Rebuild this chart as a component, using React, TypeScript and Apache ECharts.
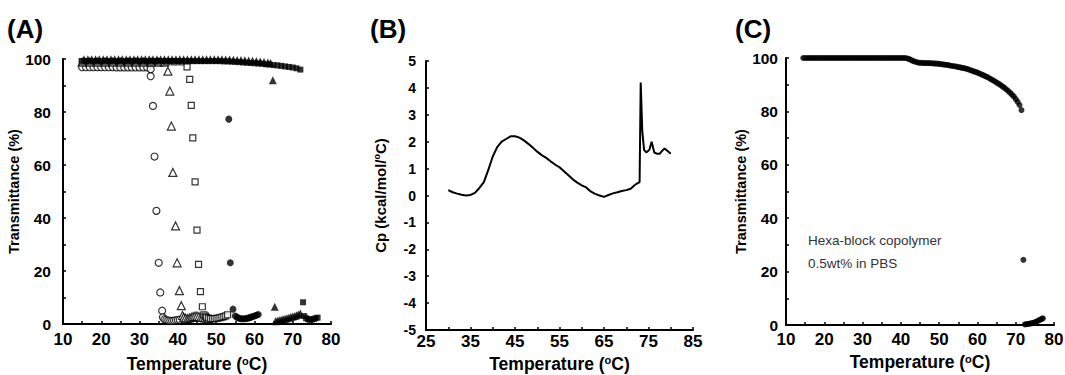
import React, { useEffect, useRef } from "react";
import * as echarts from "echarts";

const FONT = "'Liberation Sans', Arial, sans-serif";

// ---------- Panel A data: [temperature, transmittance] ----------
const openCircles: number[][] = [
  [15, 96.9], [16, 96.9], [17, 96.9], [18, 96.9], [19, 96.9], [20, 96.9], [21, 96.9], [22, 96.9],
  [23, 96.9], [24, 96.8], [25, 96.8], [26, 96.8], [27, 96.8], [28, 96.8], [29, 96.8], [30, 96.8],
  [31, 96.8], [32, 96.8],
  [32.9, 96.1], [32.9, 93.5], [33.5, 82.3], [33.9, 63.2], [34.4, 42.7], [35.0, 23.1], [35.4, 11.9],
  [35.9, 5.0], [36.1, 2.5],
  [36.5, 1.8], [37, 1.5], [37.5, 1.3], [38, 1.2], [38.5, 1.2], [39, 1.3], [39.5, 1.4], [40, 1.5], [40.5, 1.6],
];

const openTriangles: number[][] = [
  [15, 98.8], [17, 98.8], [19, 98.8], [21, 98.8], [23, 98.8], [25, 98.8], [27, 98.8], [29, 98.8],
  [31, 98.8], [33, 98.8], [35, 98.8], [36.5, 98.8],
  [37.4, 95.4], [37.9, 87.9], [38.3, 74.7], [38.7, 57.2], [39.4, 37.0], [39.8, 23.1], [40.4, 12.6],
  [40.9, 6.9], [41.2, 3.2],
  [41.5, 2.5], [42, 2.2], [42.5, 2.0], [43, 2.3], [43.5, 2.5], [44, 2.8], [44.5, 3.0], [45, 3.0],
  [45.5, 2.8], [46, 2.5], [46.5, 2.5], [47, 2.3], [47.5, 2.2], [48, 2.0],
];

const openSquares: number[][] = [
  [15, 98.9], [17, 98.9], [19, 98.9], [21, 98.9], [23, 98.9], [25, 98.9], [27, 98.9], [29, 98.9],
  [31, 98.9], [33, 98.9], [35, 98.9], [37, 98.9], [39, 98.9], [41, 98.9],
  [42.4, 97.0], [43.1, 92.3], [43.5, 82.5], [43.9, 70.2], [44.5, 53.6], [45.0, 35.4], [45.4, 22.5],
  [45.9, 12.2], [46.4, 6.5], [46.8, 3.5],
  [47.2, 3.0], [47.5, 2.5], [48, 2.2], [48.5, 2.0], [49, 2.0], [49.5, 2.0], [50, 2.1], [50.5, 2.2],
  [51, 2.4], [51.5, 2.6], [52, 2.8], [52.5, 3.1], [53, 3.5],
];

const filledCircles: number[][] = [
  [15, 100.4], [16, 100.4], [17, 100.4], [18, 100.4], [19, 100.4], [20, 100.4], [21, 100.4], [22, 100.4],
  [23, 100.4], [24, 100.4], [25, 100.4], [26, 100.4], [27, 100.4], [28, 100.4], [29, 100.4], [30, 100.4],
  [31, 100.4], [32, 100.4], [33, 100.4], [34, 100.4], [35, 100.4], [36, 100.4], [37, 100.4], [38, 100.4],
  [39, 100.4], [40, 100.4], [41, 100.4], [42, 100.4], [43, 100.4], [44, 100.4], [45, 100.4], [46, 100.4],
  [47, 100.4], [48, 100.4], [49, 100.4], [50, 100.4], [51, 100.3], [52, 100.2], [53, 100.1],
  [53.3, 77.3], [53.7, 23.1], [54.4, 5.6],
  [55, 3.0], [55.5, 2.5], [56, 2.2], [56.5, 2.0], [57, 2.0], [57.5, 2.0], [58, 2.1], [58.5, 2.3],
  [59, 2.5], [59.5, 2.8], [60, 3.0], [60.5, 3.3], [61, 3.6],
];

const filledTriangles: number[][] = [
  [15.5, 99.9], [16.5, 99.9], [17.5, 99.9], [18.5, 99.9], [19.5, 99.9], [20.5, 99.9], [21.5, 99.9], [22.5, 99.9],
  [23.5, 99.9], [24.5, 99.9], [25.5, 99.9], [26.5, 99.9], [27.5, 99.9], [28.5, 99.9], [29.5, 99.9], [30.5, 99.9],
  [31.5, 99.9], [32.5, 99.9], [33.5, 99.9], [34.5, 99.9], [35.5, 99.9], [36.5, 99.9], [37.5, 99.9], [38.5, 99.9],
  [39.5, 99.9], [40.5, 99.9], [41.5, 99.9], [42.5, 99.9], [43.5, 99.9], [44.5, 99.9], [45.5, 99.9], [46.5, 99.9],
  [47.5, 99.9], [48.5, 99.9], [49.5, 99.9], [50.5, 99.9], [51.5, 99.9], [52.5, 99.8], [53.5, 99.8], [54.5, 99.7],
  [55.5, 99.6], [56.5, 99.6], [57.5, 99.5], [58.5, 99.4], [59.5, 99.3], [60.5, 99.2], [61.5, 99.1], [62.5, 98.9],
  [63.5, 98.7], [64.2, 98.5],
  [64.8, 92.0], [65.3, 6.5],
  [65.5, 1.0], [66, 1.2], [66.5, 1.4], [67, 1.6], [67.5, 1.8], [68, 2.0], [68.5, 2.2], [69, 2.4],
  [69.5, 2.6], [70, 2.8], [70.5, 3.0], [71, 3.3], [71.5, 3.6], [72, 4.0],
];

const filledSquares: number[][] = [
  [15, 99.2], [16, 99.2], [17, 99.2], [18, 99.2], [19, 99.2], [20, 99.2], [21, 99.2], [22, 99.2],
  [23, 99.2], [24, 99.2], [25, 99.2], [26, 99.2], [27, 99.2], [28, 99.2], [29, 99.2], [30, 99.2],
  [31, 99.2], [32, 99.2], [33, 99.2], [34, 99.2], [35, 99.2], [36, 99.2], [37, 99.2], [38, 99.2],
  [39, 99.2], [40, 99.2], [41, 99.2], [42, 99.2], [43, 99.2], [44, 99.2], [45, 99.2], [46, 99.2],
  [47, 99.2], [48, 99.2], [49, 99.2], [50, 99.2], [51, 99.2], [52, 99.1], [53, 99.1], [54, 99.0],
  [55, 98.9], [56, 98.8], [57, 98.7], [58, 98.6], [59, 98.5], [60, 98.4], [61, 98.3], [62, 98.2],
  [63, 98.0], [64, 97.9], [65, 97.7], [66, 97.6], [67, 97.4], [68, 97.2], [69, 97.0], [70, 96.8],
  [71, 96.5], [72, 96.0],
  [72.7, 8.2],
  [73, 3.0], [73.5, 2.2], [74, 1.8], [74.5, 1.6], [75, 1.7], [75.5, 1.9], [76, 2.2], [76.5, 2.4],
];

// ---------- Panel B data: DSC curve ----------
const dscTemp: number[] = [
  30, 31, 32, 33, 34, 35, 36, 37, 38, 39, 40, 41, 42, 43, 44, 45, 46, 47, 48, 49, 50,
  51, 52, 53, 54, 55, 56, 57, 58, 59, 60, 61, 62, 63, 64, 65, 66, 67, 68, 69, 70, 71, 72,
  72.5, 73.0, 73.25, 73.6, 74.0, 74.5, 75.2, 75.7, 76.3, 77.0, 77.5, 78.0, 78.6, 79.3, 80.0,
];
const dscCp: number[] = [
  0.2, 0.12, 0.07, 0.03, 0.0, 0.02, 0.1, 0.28, 0.5, 0.95, 1.45, 1.8, 2.0, 2.1, 2.2, 2.2, 2.15, 2.05, 1.92, 1.78, 1.63,
  1.5, 1.4, 1.27, 1.15, 1.05, 0.9, 0.75, 0.6, 0.48, 0.38, 0.3, 0.15, 0.06, 0.0, -0.05, 0.02, 0.08, 0.12, 0.17, 0.2, 0.25, 0.4,
  0.45, 0.5, 4.2, 2.4, 1.7, 1.6, 1.7, 2.0, 1.6, 1.55, 1.55, 1.65, 1.75, 1.65, 1.55,
];

// ---------- Panel C data ----------
const hexaBlock: number[][] = [
  [14.5, 100], [15, 100], [15.5, 100], [16, 100], [16.5, 100], [17, 100], [17.5, 100], [18, 100],
  [18.5, 100], [19, 100], [19.5, 100], [20, 100], [20.5, 100], [21, 100], [21.5, 100], [22, 100],
  [22.5, 100], [23, 100], [23.5, 100], [24, 100], [24.5, 100], [25, 100], [25.5, 100], [26, 100],
  [26.5, 100], [27, 100], [27.5, 100], [28, 100], [28.5, 100], [29, 100], [29.5, 100], [30, 100],
  [30.5, 100], [31, 100], [31.5, 100], [32, 100], [32.5, 100], [33, 100], [33.5, 100], [34, 100],
  [34.5, 100], [35, 100], [35.5, 100], [36, 100], [36.5, 100], [37, 100], [37.5, 100], [38, 100],
  [38.5, 100], [39, 100], [39.5, 100], [40, 100], [40.5, 100], [41, 100], [41.5, 99.9], [42, 99.7],
  [42.5, 99.4], [43, 99.0], [43.5, 98.7], [44, 98.5], [44.5, 98.3], [45, 98.2], [45.5, 98.2], [46, 98.1],
  [46.5, 98.1], [47, 98.1], [47.5, 98.1], [48, 98.0], [48.5, 98.0], [49, 97.9], [49.5, 97.9], [50, 97.8],
  [50.5, 97.7], [51, 97.6], [51.5, 97.5], [52, 97.4], [52.5, 97.3], [53, 97.1], [53.5, 97.0], [54, 96.9],
  [54.5, 96.8], [55, 96.6], [55.5, 96.5], [56, 96.3], [56.5, 96.2], [57, 96.0], [57.5, 95.8], [58, 95.5],
  [58.5, 95.3], [59, 95.0], [59.5, 94.8], [60, 94.5], [60.5, 94.2], [61, 93.9], [61.5, 93.6], [62, 93.2],
  [62.5, 92.9], [63, 92.5], [63.5, 92.1], [64, 91.7], [64.5, 91.3], [65, 90.8], [65.5, 90.4], [66, 89.9],
  [66.5, 89.4], [67, 88.9], [67.5, 88.3], [68, 87.7], [68.5, 87.0], [69, 86.3], [69.5, 85.6], [70, 84.6],
  [70.5, 83.6], [71, 82.4], [71.5, 80.5],
  [72.0, 24.4],
  [72.4, 0.2], [72.8, 0.3], [73.2, 0.4], [73.6, 0.5], [74.0, 0.6], [74.4, 0.7], [74.8, 0.9], [75.2, 1.1],
  [75.6, 1.4], [76.0, 1.7], [76.4, 2.0], [76.8, 2.3], [77.1, 2.5],
];

const annotation: string[] = ["Hexa-block copolymer", "0.5wt% in PBS"];

const tempName = "Temperature ({sup|o}C)";

function axisStyle() {
  return {
    axisLine: { show: true, onZero: false, lineStyle: { color: "#000", width: 2 } },
    axisTick: { show: true, inside: true, length: 3, lineStyle: { color: "#000", width: 1.5 } },
    splitLine: { show: false },
  };
}

function lbl(size: number) {
  return { color: "#000", fontSize: size, fontWeight: "bold" as const, fontFamily: FONT };
}
function nm(size: number) {
  return {
    color: "#000",
    fontSize: size,
    fontWeight: "bold" as const,
    fontFamily: FONT,
    rich: {
      sup: {
        fontSize: Math.round(size * 0.6),
        fontWeight: "bold" as const,
        fontFamily: FONT,
        color: "#000",
        verticalAlign: "top" as const,
        padding: [0, 0, 7, 0],
      },
    },
  };
}

export default function App() {
  const ref = useRef<HTMLDivElement>(null);
  useEffect(() => {
    if (!ref.current) return;
    const chart = echarts.init(ref.current, undefined, { renderer: "svg" });
    const openItem = { color: "#fff", borderColor: "#000", borderWidth: 1.2 };
    const filledItem = { color: "#000" };
    chart.setOption({
      animation: false,
      backgroundColor: "#fff",
      textStyle: { fontFamily: FONT },
      grid: [
        { left: 63, top: 59, width: 268, height: 265, outerBoundsMode: "none" },
        { left: 426, top: 61, width: 267, height: 269, outerBoundsMode: "none" },
        { left: 786, top: 58, width: 268, height: 267, outerBoundsMode: "none" },
      ],
      xAxis: [
        {
          gridIndex: 0, type: "value", min: 10, max: 80, interval: 5,
          ...axisStyle(),
          axisLabel: { ...lbl(17), margin: 7, formatter: (v: number) => (v % 10 === 0 ? String(v) : "") },
          name: tempName, nameLocation: "middle", nameGap: 31, nameTextStyle: nm(17.5),
        },
        {
          gridIndex: 1, type: "value", min: 25, max: 85, interval: 5,
          ...axisStyle(),
          axisLabel: { ...lbl(17), margin: 3, formatter: (v: number) => ((v - 25) % 10 === 0 ? String(v) : "") },
          name: tempName, nameLocation: "middle", nameGap: 24, nameTextStyle: nm(17.5),
        },
        {
          gridIndex: 2, type: "value", min: 10, max: 80, interval: 5,
          ...axisStyle(),
          axisLabel: { ...lbl(17), margin: 6, formatter: (v: number) => (v % 10 === 0 ? String(v) : "") },
          name: tempName, nameLocation: "middle", nameGap: 28, nameTextStyle: nm(17.5),
        },
      ],
      yAxis: [
        {
          gridIndex: 0, type: "value", min: 0, max: 100, interval: 10,
          ...axisStyle(),
          axisLabel: { ...lbl(15.5), margin: 12, formatter: (v: number) => (v % 20 === 0 ? String(v) : "") },
          name: "Transmittance (%)", nameLocation: "middle", nameGap: 35, nameTextStyle: nm(14.5),
        },
        {
          gridIndex: 1, type: "value", min: -5, max: 5, interval: 1,
          ...axisStyle(),
          axisLabel: { ...lbl(14), margin: 10 },
          name: "Cp (kcal/mol/{sup|o}C)", nameLocation: "middle", nameGap: 38, nameTextStyle: nm(15),
        },
        {
          gridIndex: 2, type: "value", min: 0, max: 100, interval: 10,
          ...axisStyle(),
          axisLabel: { ...lbl(15.5), margin: 8, formatter: (v: number) => (v % 20 === 0 ? String(v) : "") },
          name: "Transmittance (%)", nameLocation: "middle", nameGap: 35, nameTextStyle: nm(14.5),
        },
      ],
      series: [
        { type: "scatter", xAxisIndex: 0, yAxisIndex: 0, symbol: "circle", symbolSize: 7, itemStyle: openItem, data: openCircles },
        { type: "scatter", xAxisIndex: 0, yAxisIndex: 0, symbol: "triangle", symbolSize: 8, itemStyle: openItem, data: openTriangles },
        { type: "scatter", xAxisIndex: 0, yAxisIndex: 0, symbol: "rect", symbolSize: 6, itemStyle: openItem, data: openSquares },
        { type: "scatter", xAxisIndex: 0, yAxisIndex: 0, symbol: "circle", symbolSize: 7, itemStyle: filledItem, data: filledCircles },
        { type: "scatter", xAxisIndex: 0, yAxisIndex: 0, symbol: "triangle", symbolSize: 8, itemStyle: filledItem, data: filledTriangles },
        { type: "scatter", xAxisIndex: 0, yAxisIndex: 0, symbol: "rect", symbolSize: 6, itemStyle: filledItem, data: filledSquares },
        {
          type: "line", xAxisIndex: 1, yAxisIndex: 1, showSymbol: false, symbol: "none",
          lineStyle: { color: "#000", width: 2 },
          data: dscTemp.map((t, i) => [t, dscCp[i]]),
        },
        { type: "scatter", xAxisIndex: 2, yAxisIndex: 2, symbol: "circle", symbolSize: 6, itemStyle: filledItem, data: hexaBlock },
      ],
      graphic: [
        { type: "text", left: 7, top: 16, style: { text: "(A)", fontSize: 26, fontWeight: "bold", fontFamily: FONT, fill: "#000" } },
        { type: "text", left: 370, top: 16, style: { text: "(B)", fontSize: 26, fontWeight: "bold", fontFamily: FONT, fill: "#000" } },
        { type: "text", left: 735, top: 16, style: { text: "(C)", fontSize: 26, fontWeight: "bold", fontFamily: FONT, fill: "#000" } },
        { type: "text", left: 808, top: 233, style: { text: annotation[0], fontSize: 13.5, fontFamily: FONT, fill: "#333" } },
        { type: "text", left: 808, top: 256, style: { text: annotation[1], fontSize: 13.5, fontFamily: FONT, fill: "#333" } },
      ],
    });
    return () => chart.dispose();
  }, []);
  return (
    <div
      ref={ref}
      style={{ position: "fixed", left: 0, top: 0, width: 1065, height: 375, background: "#fff" }}
    />
  );
}
